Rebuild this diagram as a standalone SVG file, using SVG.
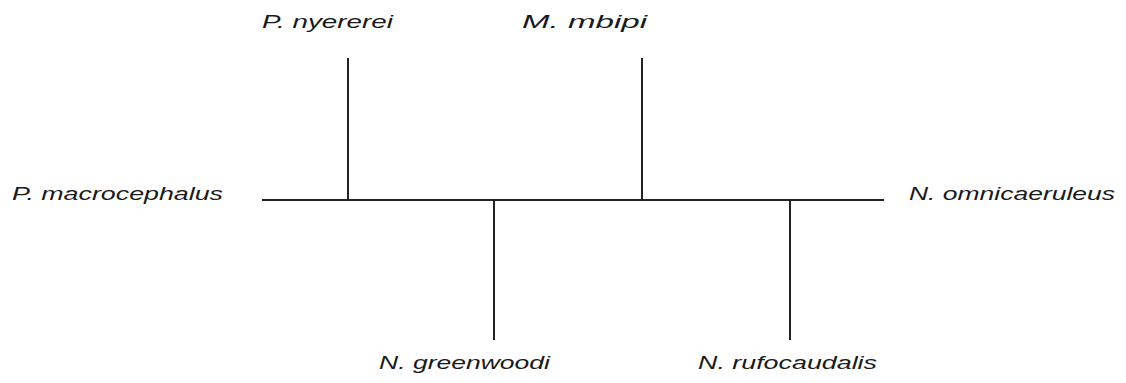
<svg xmlns="http://www.w3.org/2000/svg" width="1126" height="383" viewBox="0 0 1126 383">
  <style>
    .edge { stroke: #222; stroke-width: 2; fill: none; }
    .label { font-family: "Liberation Sans", Arial, sans-serif; font-style: italic; font-size: 19px; fill: #1a1a1a; }
  </style>
  <rect width="1126" height="383" fill="#fff"/>
  <!-- tree branches: one spine, four side branches -->
  <g id="connectors">
    <line class="edge" x1="262" y1="200" x2="884" y2="200"/>
    <line class="edge" x1="348" y1="58" x2="348" y2="200"/>
    <line class="edge" x1="642" y1="58" x2="642" y2="200"/>
    <line class="edge" x1="494" y1="200" x2="494" y2="340"/>
    <line class="edge" x1="790" y1="200" x2="790" y2="340"/>
  </g>
  <g id="p-nyererei"><text class="label" x="262" y="28" textLength="131" lengthAdjust="spacingAndGlyphs">P. nyererei</text></g>
  <g id="m-mbipi"><text class="label" x="522" y="28" textLength="125" lengthAdjust="spacingAndGlyphs">M. mbipi</text></g>
  <g id="p-macrocephalus"><text class="label" x="12" y="200" textLength="211" lengthAdjust="spacingAndGlyphs">P. macrocephalus</text></g>
  <g id="n-omnicaeruleus"><text class="label" x="909" y="200" textLength="206" lengthAdjust="spacingAndGlyphs">N. omnicaeruleus</text></g>
  <g id="n-greenwoodi"><text class="label" x="379" y="369" textLength="171" lengthAdjust="spacingAndGlyphs">N. greenwoodi</text></g>
  <g id="n-rufocaudalis"><text class="label" x="698" y="369" textLength="179" lengthAdjust="spacingAndGlyphs">N. rufocaudalis</text></g>
</svg>
